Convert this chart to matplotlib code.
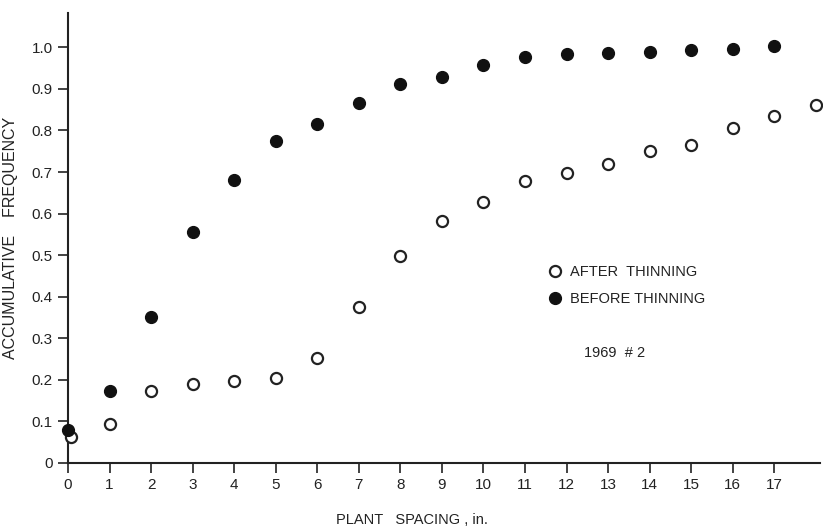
import numpy as np
import matplotlib.pyplot as plt

plt.rcParams['font.family'] = ['Liberation Sans', 'DejaVu Sans']

spacing_before = [0, 1, 2, 3, 4, 5, 6, 7, 8, 9, 10, 11, 12, 13, 14, 15, 16, 17]
freq_before = [0.079, 0.173, 0.352, 0.555, 0.681, 0.774, 0.815, 0.866, 0.912,
               0.930, 0.958, 0.976, 0.985, 0.987, 0.990, 0.994, 0.997, 1.003]

spacing_after = [0.07, 1, 2, 3, 4, 5, 6, 7, 8, 9, 10, 11, 12, 13, 14, 15, 16, 17, 18]
freq_after = [0.063, 0.092, 0.173, 0.190, 0.197, 0.204, 0.252, 0.374, 0.498,
              0.582, 0.627, 0.679, 0.697, 0.719, 0.751, 0.765, 0.806, 0.834, 0.861]

x_ticks = list(range(18))
y_ticks = [0, 0.1, 0.2, 0.3, 0.4, 0.5, 0.6, 0.7, 0.8, 0.9, 1.0]
y_ticklabels = ['0', '0.1', '0.2', '0.3', '0.4', '0.5', '0.6', '0.7', '0.8', '0.9', '1.0']

fig = plt.figure(figsize=(8.23, 5.30), dpi=100)
ax = fig.add_axes([0.0826, 0.127, 0.9138, 0.8485])

ax.plot(spacing_after, freq_after, 'o', ms=8, mfc='white', mec='#222222',
        mew=1.6, ls='none', label='AFTER  THINNING', clip_on=False, zorder=3)
ax.plot(spacing_before, freq_before, 'o', ms=8.5, color='#111111',
        ls='none', label='BEFORE THINNING', clip_on=False, zorder=4)

ax.set_xlim(0, 18.1)
ax.set_ylim(0, 1.083)
ax.set_xticks(x_ticks)
ax.set_yticks(y_ticks)
ax.set_yticklabels(y_ticklabels)
ax.tick_params(axis='both', direction='out', length=7, width=1.2,
               labelsize=11, colors='#222222', pad=4)

for side in ['top', 'right']:
    ax.spines[side].set_visible(False)
for side in ['left', 'bottom']:
    ax.spines[side].set_linewidth(1.5)
    ax.spines[side].set_color('#222222')

ax.set_ylabel('ACCUMULATIVE    FREQUENCY', fontsize=11.5, color='#222222')
ax.yaxis.set_label_coords(-0.066, 0.5)
fig.text(412 / 823, 1 - 520 / 530, 'PLANT   SPACING , in.', fontsize=10.5,
         color='#222222', ha='center', va='center')

leg = ax.legend(loc='upper left', bbox_to_anchor=(535 / 823, 1 - 252 / 530),
                bbox_transform=fig.transFigure, frameon=False, fontsize=10.5,
                handletextpad=0.5, labelspacing=0.9, handlelength=1.0)
for t in leg.get_texts():
    t.set_color('#222222')

fig.text(615 / 823, 1 - 353 / 530, '1969  # 2', fontsize=10.5,
         color='#222222', ha='center', va='center')

fig.savefig('out.png', dpi=100)
